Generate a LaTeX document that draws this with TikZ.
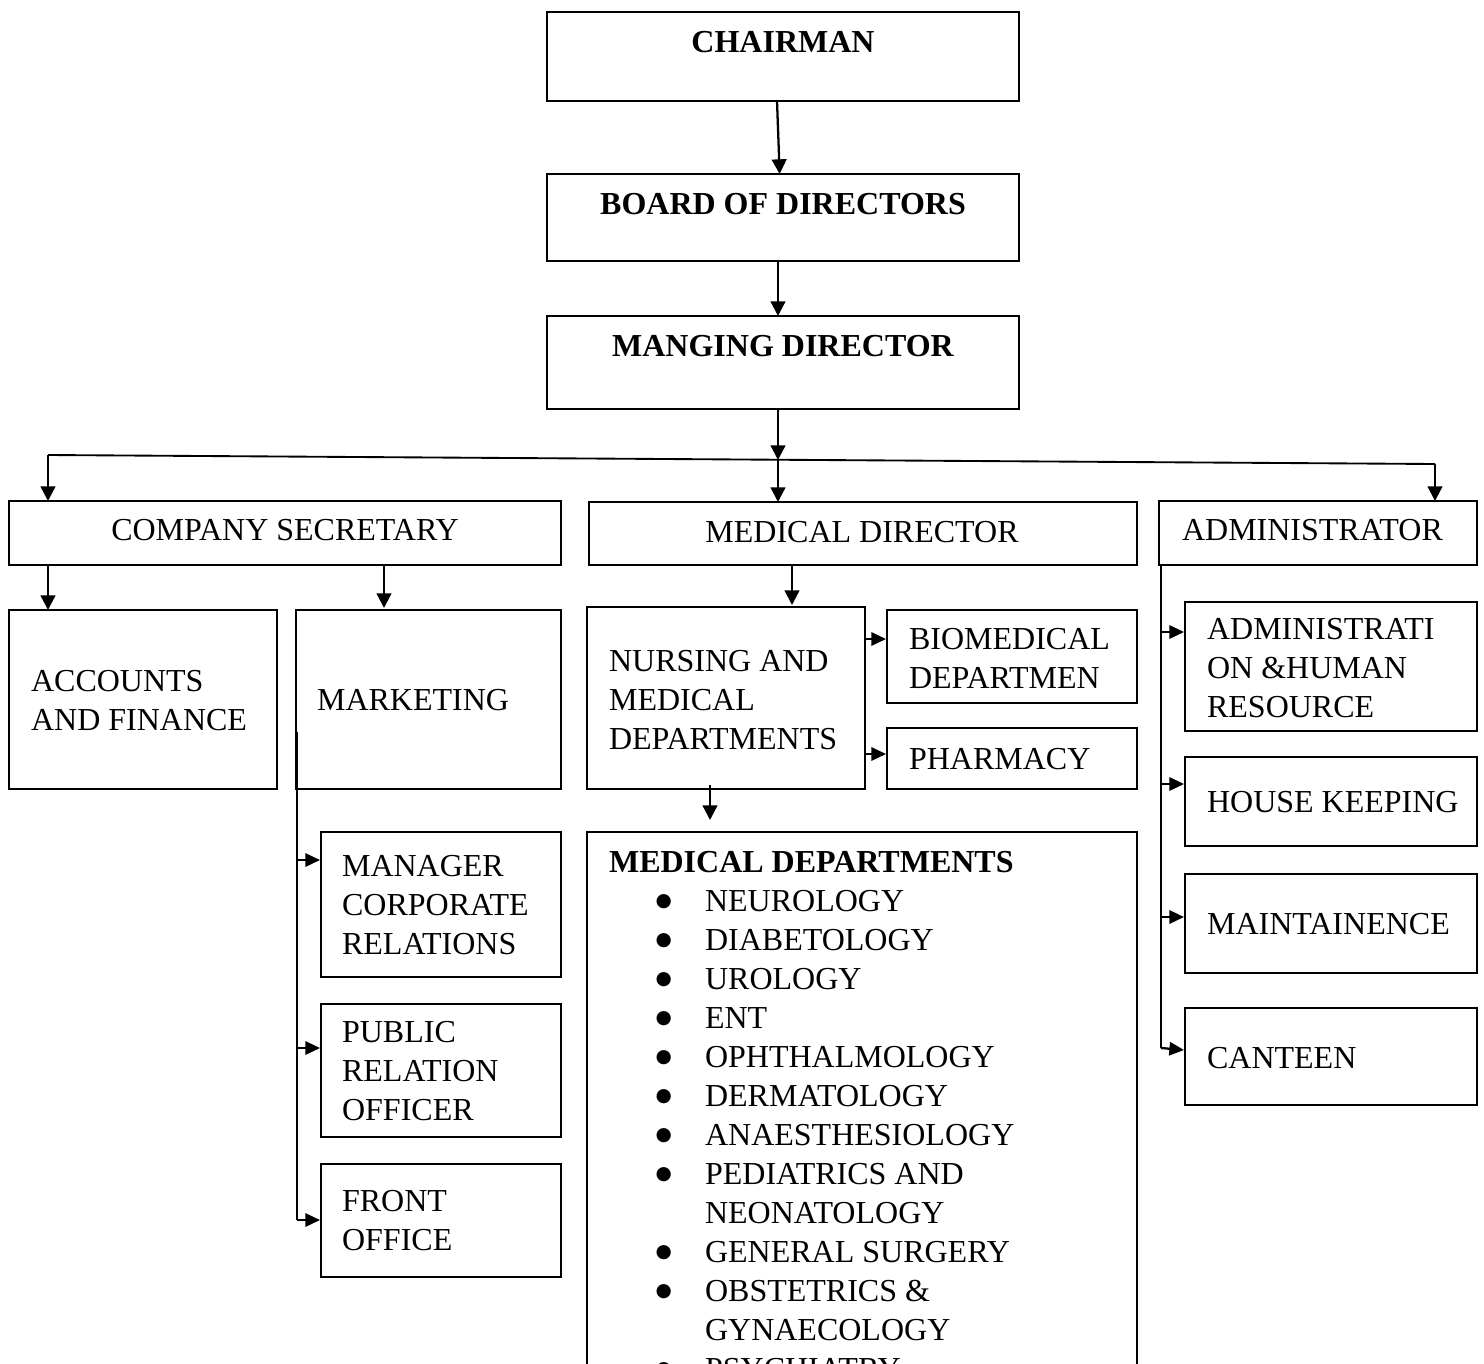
\documentclass[tikz,border=0pt]{standalone}
\usepackage{fontspec}
\setmainfont{Liberation Serif}
\newfontfamily\dotfont{DejaVu Sans}
\usetikzlibrary{arrows.meta}

\newcommand{\medbul}{\makebox[72pt][l]{\hspace*{35pt}\raisebox{4pt}{\dotfont\fontsize{14pt}{14pt}\selectfont ●}}}

\tikzset{every picture/.style={line width=1.6pt}}
\tikzset{
  box/.style={draw, line width=1.6pt, inner sep=0pt, outer sep=0pt},
  txt/.style={inner sep=0pt, align=left, font=\fontsize{24pt}{29.25pt}\selectfont},
  arr/.style={-{Triangle[length=11pt,width=11pt]}, line width=1.7pt},
  harr/.style={-{Triangle[length=11pt,width=10pt]}, line width=1.7pt}
}

\begin{document}
\begin{tikzpicture}[x=0.75pt,y=0.75pt,yscale=-1,xscale=1]
\clip (0,0) rectangle (1484,1363);

%Top boxes
\node[box, minimum width=354pt, minimum height=66.75pt] (chair) at (783,56.5) {};
\node[box, minimum width=354pt, minimum height=65.25pt] (board) at (783,217.5) {};
\node[box, minimum width=354pt, minimum height=69.75pt] (md) at (783,362.5) {};
%Second row
\node[box, minimum width=414pt, minimum height=48pt] (csec) at (285,533) {};
\node[box, minimum width=411pt, minimum height=47.25pt] (meddir) at (863,533.5) {};
\node[box, minimum width=238.5pt, minimum height=48pt] (admin) at (1318,533) {};
%Company secretary side
\node[box, minimum width=201pt, minimum height=134.25pt] (acc) at (143,699.5) {};
\node[box, minimum width=198.75pt, minimum height=134.25pt] (mkt) at (428.5,699.5) {};
\node[box, minimum width=180pt, minimum height=108.75pt] (mgr) at (441,904.5) {};
\node[box, minimum width=180pt, minimum height=99.75pt] (pro) at (441,1070.5) {};
\node[box, minimum width=180pt, minimum height=84.75pt] (front) at (441,1220.5) {};
%Medical director side
\node[box, minimum width=208.5pt, minimum height=136.5pt] (nurs) at (726,698) {};
\node[box, minimum width=187.5pt, minimum height=69.75pt] (bio) at (1012,656.5) {};
\node[box, minimum width=187.5pt, minimum height=45.75pt] (pharm) at (1012,758.5) {};
\node[box, minimum width=412.5pt, minimum height=441pt] (meddeps) at (862,1126) {};
%Administrator side
\node[box, minimum width=219pt, minimum height=96.75pt] (hr) at (1331,666.5) {};
\node[box, minimum width=219pt, minimum height=66.75pt] (house) at (1331,801.5) {};
\node[box, minimum width=219pt, minimum height=74.25pt] (maint) at (1331,923.5) {};
\node[box, minimum width=219pt, minimum height=72.75pt] (canteen) at (1331,1056.5) {};

%Coordinates for connector ends
\coordinate (busL) at (48,455);
\coordinate (busM) at (778,460);
\coordinate (busR) at (1435,464);
\coordinate (mktin) at (384,608);
\coordinate (nursin) at (792,605);
\coordinate (bioin) at (886,639);
\coordinate (phin) at (886,754);
\coordinate (medin) at (710,820);
\coordinate (mkttop) at (297,732);
\coordinate (mgrin) at (320,860);
\coordinate (proin) at (320,1048);
\coordinate (frin) at (320,1220);
\coordinate (admx) at (1161,1048);
\coordinate (hrin) at (1184,632);
\coordinate (housein) at (1184,784);
\coordinate (maintin) at (1184,917);
\coordinate (cantin) at (1184,1050);

%Straight Lines
\draw[arr] ([xshift=-4.5pt]chair.south) -- ([xshift=-2.5pt]board.north);
\draw[arr] ([xshift=-3.75pt]board.south) -- ([xshift=-3.75pt]md.north);
\draw[arr] (md.south -| busM) -- (busM);
\draw[line width=1.4pt] (busL) -- (busR);
\draw[arr] (busL) -- (csec.north -| busL);
\draw[arr] (busM) -- (meddir.north -| busM);
\draw[arr] (busR) -- (admin.north -| busR);
\draw[arr] (csec.south -| busL) -- (acc.north -| busL);
\draw[arr] (csec.south -| mktin) -- (mktin);
\draw[arr] (meddir.south -| nursin) -- (nursin);
\draw[harr] (nurs.east |- bioin) -- (bioin);
\draw[harr] (nurs.east |- phin) -- (phin);
\draw[arr] ([yshift=-3pt]nurs.south -| medin) -- (medin);
%Marketing spine
\draw (mkttop) -- (mkttop |- frin);
\draw[harr] (mkttop |- mgrin) -- (mgrin);
\draw[harr] (mkttop |- proin) -- (proin);
\draw[harr] (mkttop |- frin) -- (frin);
%Administrator spine
\draw (admin.south -| admx) -- (admx);
\draw[harr] (admx |- hrin) -- (hrin);
\draw[harr] (admx |- housein) -- (housein);
\draw[harr] (admx |- maintin) -- (maintin);
\draw[harr] (admx) -- (cantin);

% Text Node
\node[txt, font=\fontsize{24pt}{29.25pt}\selectfont\bfseries] (chair-t) at (783,42) {CHAIRMAN};
% Text Node
\node[txt, font=\fontsize{24pt}{29.25pt}\selectfont\bfseries] (board-t) at (783,204) {BOARD OF DIRECTORS};
% Text Node
\node[txt, font=\fontsize{24pt}{29.25pt}\selectfont\bfseries] (md-t) at (783,346) {MANGING DIRECTOR};
% Text Node
\node[txt] (csec-t) at (285,530) {COMPANY SECRETARY};
% Text Node
\node[txt] (meddir-t) at (862,532) {MEDICAL DIRECTOR};
% Text Node
\node[txt, anchor=west] (admin-t) at (1181,530) {ADMINISTRATOR};
% Text Node
\node[txt, anchor=west] (acc-t) at (30,700.5) {ACCOUNTS\\AND FINANCE};
% Text Node
\node[txt, anchor=west] (mkt-t) at (316,700) {MARKETING};
% Text Node
\node[txt, anchor=west] (mgr-t) at (341,905.5) {MANAGER\\CORPORATE\\RELATIONS};
% Text Node
\node[txt, anchor=west] (pro-t) at (341,1071) {PUBLIC\\RELATION\\OFFICER};
% Text Node
\node[txt, anchor=west] (front-t) at (341,1221) {FRONT\\OFFICE};
% Text Node
\node[txt, anchor=west] (nurs-t) at (608,700) {NURSING AND\\MEDICAL\\DEPARTMENTS};
% Text Node
\node[txt, anchor=west] (bio-t) at (908,658) {BIOMEDICAL\\DEPARTMEN};
% Text Node
\node[txt, anchor=west] (pharm-t) at (908,759) {PHARMACY};
% Text Node
\node[txt, anchor=west] (hr-t) at (1206,668) {ADMINISTRATI\\ON \&HUMAN\\RESOURCE};
% Text Node
\node[txt, anchor=west] (house-t) at (1206,802) {HOUSE KEEPING};
% Text Node
\node[txt, anchor=west] (maint-t) at (1206,924) {MAINTAINENCE};
% Text Node
\node[txt, anchor=west] (canteen-t) at (1206,1058) {CANTEEN};
% Text Node
\node[txt, anchor=north west] (meddeps-t) at (608,850.4) {\textbf{MEDICAL DEPARTMENTS}\\
\medbul NEUROLOGY\\
\medbul DIABETOLOGY\\
\medbul UROLOGY\\
\medbul ENT\\
\medbul OPHTHALMOLOGY\\
\medbul DERMATOLOGY\\
\medbul ANAESTHESIOLOGY\\
\medbul PEDIATRICS AND\\
\hspace*{72pt}NEONATOLOGY\\
\medbul GENERAL SURGERY\\
\medbul OBSTETRICS \&\\
\hspace*{72pt}GYNAECOLOGY\\
\medbul PSYCHIATRY};

\end{tikzpicture}
\end{document}
